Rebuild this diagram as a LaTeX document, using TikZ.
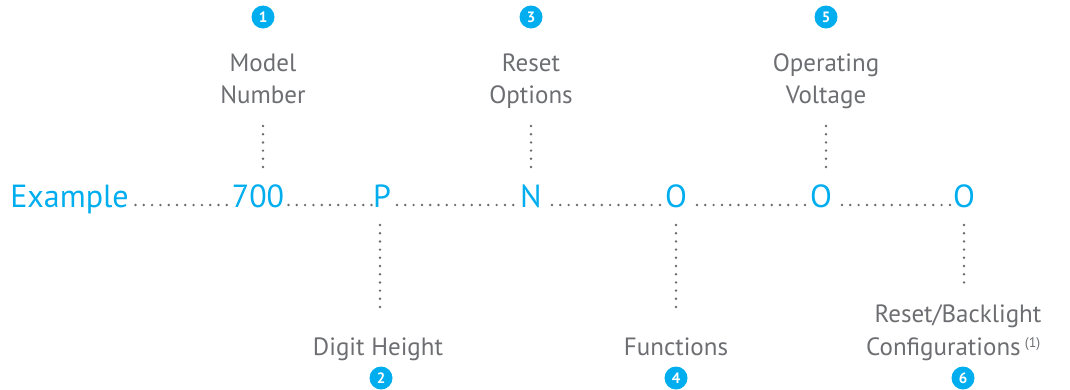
\documentclass[tikz,border=0pt]{standalone}
\usepackage{fontspec}
\setmainfont{PT Sans}
\definecolor{cy}{HTML}{00AEEF}
\definecolor{tg}{HTML}{6D6E71}
\definecolor{dg}{HTML}{6A6B6E}
\tikzset{
  main/.style={text=cy, font=\fontsize{32}{32}\selectfont, anchor=base, inner sep=0pt},
  lbl/.style={text=tg, font=\fontsize{25}{25}\selectfont, anchor=base, inner sep=0pt},
  badge/.style={circle, fill=cy, text=white, font=\fontsize{15}{15}\selectfont\bfseries, minimum size=23pt, inner sep=0pt},
  hdots/.style={dg, line width=2.7pt, line cap=round, dash pattern=on 0pt off 8.3pt},
  vdots/.style={dg, line width=2.7pt, line cap=round, dash pattern=on 0pt off 8.2pt}
}
\begin{document}
\begin{tikzpicture}[x=1pt,y=-1pt]
\useasboundingbox (0,0) rectangle (1070,389);
% main row
\node[main] (ex) at (69.5,207) {Example};
\node[main] (n700) at (258,207) {700};
\node[main] (p) at (382,207) {P};
\node[main] (n) at (531,207) {N};
\node[main] (o1) at (676,207) {O};
\node[main] (o2) at (821,207) {O};
\node[main] (o3) at (964,207) {O};
% leaders
\coordinate (l1a) at (135.5,205); \coordinate (l1b) at (227,205);
\draw[hdots] (l1a) -- (l1b);
\coordinate (l2a) at (288.5,205); \coordinate (l2b) at (372,205);
\draw[hdots] (l2a) -- (l2b);
\coordinate (l3a) at (397,205); \coordinate (l3b) at (514,205);
\draw[hdots] (l3a) -- (l3b);
\coordinate (l4a) at (552,205); \coordinate (l4b) at (660,205);
\draw[hdots] (l4a) -- (l4b);
\coordinate (l5a) at (697,205); \coordinate (l5b) at (805,205);
\draw[hdots] (l5a) -- (l5b);
\coordinate (l6a) at (842,205); \coordinate (l6b) at (950,205);
\draw[hdots] (l6a) -- (l6b);
% top labels
\node[badge] (b1) at (263,17) {1};
\node[lbl] (t1a) at (263,71) {Model};
\node[lbl] (t1b) at (263,103) {Number};
\node[badge] (b3) at (531,17) {3};
\node[lbl] (t3a) at (531,71) {Reset};
\node[lbl] (t3b) at (531,103) {Options};
\node[badge] (b5) at (826,17) {5};
\node[lbl] (t5a) at (826,71) {Operating};
\node[lbl] (t5b) at (826,103) {Voltage};
% bottom labels
\node[lbl] (d2) at (378,355) {Digit Height};
\node[badge] (b2) at (381,378) {2};
\node[lbl] (d4) at (676,355) {Functions};
\node[badge] (b4) at (676,378) {4};
\node[lbl] (d6a) at (958,322) {Reset/Backlight};
\node[lbl, anchor=base west] (d6b) at (866,355) {Configurations\,\raisebox{0.6ex}{\fontsize{14}{14}\selectfont (1)}};
\node[badge] (b6) at (963,378) {6};
% vertical connectors
\draw[vdots] (263,167) -- (263,124);
\draw[vdots] (531,167) -- (531,124);
\draw[vdots] (826,167) -- (826,124);
\draw[vdots] (380,225) -- (380,311);
\draw[vdots] (676,225) -- (676,311);
\draw[vdots] (964,225) -- (964,289);
\end{tikzpicture}
\end{document}
